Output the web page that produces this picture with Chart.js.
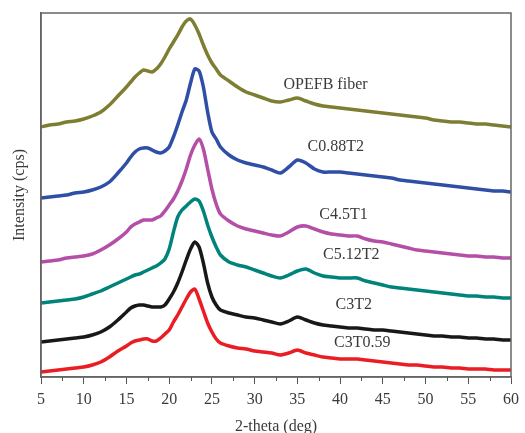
<!DOCTYPE html>
<html>
<head>
<meta charset="utf-8">
<script src="https://cdn.jsdelivr.net/npm/chart.js@4.4.1/dist/chart.umd.min.js"></script>
<style>
    html, body { margin: 0; padding: 0; background: #fff; }
    #wrap { width: 525px; height: 433px; }
</style>
</head>
<body>
<div id="wrap"><canvas id="xrdChart" width="525" height="433"></canvas></div>
<script>
//////////////////////// Data ////////////////////////
// 2-theta positions (deg), shared by all patterns
const angles = [5, 6, 7, 8, 9, 10, 11, 12, 13, 14,
    15, 15.5, 16, 16.5, 17, 17.5, 18, 18.5, 19, 19.5, 20, 20.5, 21, 21.5, 22, 22.5, 23, 23.5, 24, 24.5, 25, 25.5, 26,
    27, 28, 29, 30, 31, 32, 33, 34, 35, 36, 37, 38, 39, 40, 41, 42, 43, 44, 45, 46, 47, 48, 49, 50,
    51, 52, 53, 54, 55, 56, 57, 58, 59, 60];

// stacked intensities (offset already in, as drawn)
const opefb = [250, 252, 253, 255, 256, 258, 261, 265, 272, 281,
    290, 295, 300, 304, 307, 306, 305, 308, 313, 320, 328, 335, 342, 350, 356, 358, 352, 343, 332, 322, 314, 308, 302,
    296, 290, 285, 282, 279, 276, 275, 277, 279, 276, 273, 271, 270, 269, 268, 267, 266, 265, 264, 263, 262, 261, 260, 259,
    257, 256, 255, 255, 254, 253, 253, 252, 251, 250];
const c088t2 = [179, 180, 181, 182, 184, 185, 187, 190, 195, 204,
    214, 220, 225, 228, 229, 229, 227, 225, 224, 226, 230, 240, 252, 265, 277, 294, 308, 306, 290, 265, 245, 238, 230,
    222, 217, 214, 212, 210, 207, 204, 210, 217, 214, 208, 205, 205, 205, 204, 203, 202, 201, 200, 199, 197, 196, 195, 194,
    193, 192, 191, 190, 189, 188, 187, 186, 186, 185];
const c45t1 = [115, 116, 117, 119, 120, 121, 123, 127, 132, 138,
    145, 150, 153, 155, 157, 157, 157, 159, 161, 166, 172, 178, 186, 196, 208, 222, 232, 238, 228, 208, 188, 173, 163,
    156, 151, 148, 146, 144, 142, 141, 145, 150, 151, 148, 145, 143, 142, 141, 141, 138, 136, 135, 133, 131, 129, 127, 126,
    125, 124, 123, 122, 121, 121, 120, 120, 119, 119];
const c512t2 = [74, 75, 76, 77, 78, 80, 83, 86, 90, 94,
    98, 100, 102, 103, 105, 107, 109, 111, 114, 118, 128, 145, 160, 167, 171, 175, 178, 176, 166, 152, 140, 130, 122,
    115, 112, 110, 107, 104, 101, 99, 102, 106, 108, 104, 101, 100, 99, 99, 99, 96, 94, 92, 90, 89, 88, 87, 86,
    85, 84, 83, 82, 81, 81, 80, 80, 79, 79];
const c3t2 = [35, 36, 37, 38, 39, 40, 42, 45, 50, 57,
    65, 69, 71, 72, 72, 71, 70, 70, 70, 72, 78, 85, 94, 105, 117, 128, 135, 130, 114, 94, 80, 72, 67,
    64, 62, 60, 59, 57, 55, 53, 56, 60, 57, 54, 52, 51, 50, 49, 49, 48, 47, 47, 46, 45, 44, 43, 42,
    41, 41, 40, 40, 39, 39, 38, 38, 37, 37];
const c3t059 = [5, 6, 7, 8, 9, 10, 12, 15, 20, 26,
    31, 34, 36, 37, 38, 38, 36, 36, 39, 43, 47, 55, 62, 70, 78, 85, 88, 78, 66, 54, 45, 38, 34,
    31, 29, 28, 26, 25, 24, 22, 24, 27, 24, 22, 20, 19, 18, 18, 18, 17, 16, 15, 14, 13, 12, 12, 11,
    10, 10, 9, 9, 8, 8, 8, 7, 7, 7];

const seriesNames = ['OPEFB fiber', 'C0.88T2', 'C4.5T1', 'C5.12T2', 'C3T2', 'C3T0.59'];
const seriesValues = [opefb, c088t2, c45t1, c512t2, c3t2, c3t059];
const seriesColors = ['#7e7e33', '#2f4fa7', '#b54ea6', '#00837b', '#181818', '#ea1d25'];
// where each name is written, in data units [2-theta, intensity]
const labelSpots = [[38.3, 292], [39.5, 230], [40.4, 162], [41.3, 122], [41.6, 72], [42.6, 34]];

const xTicks = [5, 10, 15, 20, 25, 30, 35, 40, 45, 50, 55, 60];

//////////////////////// Chart ////////////////////////
document.addEventListener('DOMContentLoaded', () => {
    const serif = "'Liberation Serif', 'DejaVu Serif', serif";

    const datasets = seriesValues.map((vals, i) => ({
        label: seriesNames[i],
        data: vals.map((v, j) => ({ x: angles[j], y: v })),
        borderColor: seriesColors[i],
        borderWidth: 3.5,
        pointRadius: 0,
        tension: 0.25,
        fill: false
    }));

    // frame, minor ticks and the curve names
    const decorations = {
        id: 'decorations',
        afterDatasetsDraw(chart) {
            const { ctx, chartArea: a, scales: { x, y } } = chart;
            ctx.save();
            ctx.strokeStyle = '#666';
            ctx.lineWidth = 1.5;
            ctx.strokeRect(a.left, a.top, a.right - a.left, a.bottom - a.top);
            // minor ticks at the half steps
            ctx.lineWidth = 1;
            ctx.strokeStyle = '#555';
            for (let i = 0; i < xTicks.length - 1; i++) {
                const px = Math.round(x.getPixelForValue(xTicks[i] + 2.5)) + 0.5;
                ctx.beginPath();
                ctx.moveTo(px, a.bottom);
                ctx.lineTo(px, a.bottom + 4);
                ctx.stroke();
            }
            ctx.fillStyle = '#3a3a3a';
            ctx.font = '16px ' + serif;
            ctx.textAlign = 'center';
            ctx.textBaseline = 'middle';
            labelSpots.forEach((s, i) => {
                ctx.fillText(seriesNames[i], x.getPixelForValue(s[0]), y.getPixelForValue(s[1]));
            });
            ctx.restore();
        }
    };

    const config = {
        type: 'line',
        data: { datasets: datasets },
        options: {
            responsive: false,
            animation: false,
            layout: { padding: { top: 13, right: 12, left: 0, bottom: 0 } },
            plugins: {
                legend: { display: false },
                tooltip: { enabled: false }
            },
            scales: {
                x: {
                    type: 'linear',
                    min: 5,
                    max: 60,
                    afterBuildTicks: (s) => { s.ticks = xTicks.map(v => ({ value: v })); },
                    afterFit: (s) => { s.height = 56; },
                    grid: { drawOnChartArea: false, drawTicks: true, tickLength: 7, tickColor: '#555' },
                    border: { color: '#666', width: 1.5 },
                    ticks: { color: '#3a3a3a', font: { family: serif, size: 16 }, padding: 6, maxRotation: 0 },
                    title: {
                        display: true,
                        text: '2-theta (deg)',
                        color: '#3a3a3a',
                        font: { family: serif, size: 16 },
                        padding: { top: 0, bottom: -3 }
                    }
                },
                y: {
                    min: 0,
                    max: 364,
                    afterFit: (s) => { s.width = 41; },
                    grid: { display: false },
                    border: { color: '#666', width: 1.5 },
                    ticks: { display: false },
                    title: {
                        display: true,
                        text: 'Intensity (cps)',
                        color: '#3a3a3a',
                        font: { family: serif, size: 16 },
                        padding: { top: 10, bottom: 0 }
                    }
                }
            }
        },
        plugins: [decorations]
    };

    const ctx = document.getElementById('xrdChart').getContext('2d');
    new Chart(ctx, config);
});
</script>
</body>
</html>
